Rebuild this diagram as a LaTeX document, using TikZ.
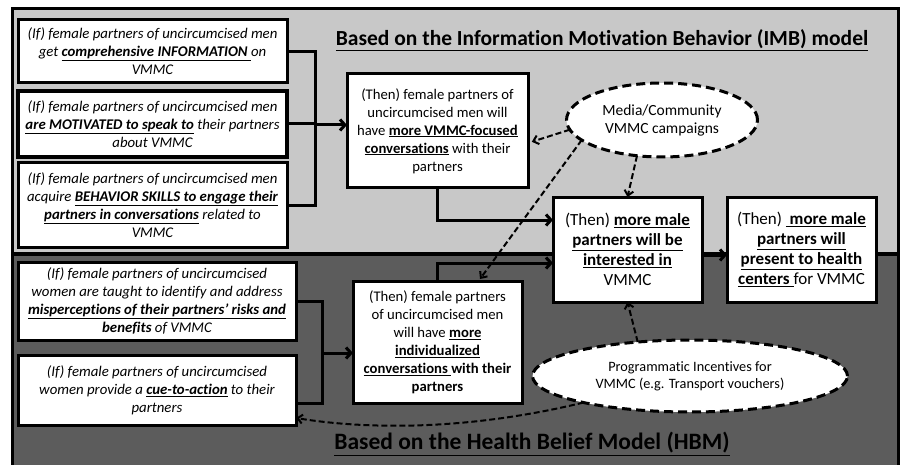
\documentclass[tikz,border=0pt]{standalone}
\usepackage{fontspec}
\setmainfont{Carlito}[Ligatures={NoCommon}]
\usetikzlibrary{arrows.meta,shapes.geometric}
\definecolor{lightg}{RGB}{200,200,200}
\definecolor{darkg}{RGB}{92,92,92}
\begin{document}
\begin{tikzpicture}[x=1pt,y=-1pt,
  boxbase/.style={draw, line width=3pt, fill=white, align=center, inner sep=0pt, outer sep=0pt},
  ifbox/.style={boxbase, font=\itshape\fontsize{14.8}{18}\selectfont},
  thenbox/.style={boxbase, font=\fontsize{14.7}{18}\selectfont},
  bigbox/.style={boxbase, font=\fontsize{17}{20}\selectfont},
  oval/.style={ellipse, draw, line width=3pt, fill=white, dash pattern=on 9pt off 5pt, inner sep=0pt, outer sep=0pt, align=center},
  conn/.style={line width=3pt},
  arr/.style={conn, -{Straight Barb[length=5pt,width=11pt]}},
  darr/.style={line width=2pt, dash pattern=on 6pt off 3pt, -{Straight Barb[length=5pt,width=9pt]}},
  ttl/.style={font=\bfseries\fontsize{21.5}{25}\selectfont, inner sep=0pt},
  ttlb/.style={font=\bfseries\fontsize{23.5}{27}\selectfont, inner sep=0pt}
]
\useasboundingbox (0,0) rectangle (904,465);
% background panels
\fill[lightg] (12,9) rectangle (898,254);
\fill[darkg] (12,254) rectangle (898,468);
\draw[line width=3pt] (12,468) -- (12,9) -- (898,9) -- (898,468);
\draw[line width=4pt] (12,254) -- (898,254);

% titles
\node[ttl] (imb) at (602,40) {\underline{Based on the Information Motivation Behavior (IMB) model}};
\node[ttlb] (hbm) at (532,444) {\underline{Based on the Health Belief Model (HBM)}};

% IMB boxes
\node[ifbox, minimum width=269pt, minimum height=63pt] (A1) at (152.5,51.5)
 {(If) female partners of uncircumcised men\\get \underline{\textbf{comprehensive INFORMATION }}on\\VMMC};
\node[ifbox, line width=4pt, minimum width=269pt, minimum height=66pt] (A2) at (152.5,124)
 {(If) female partners of uncircumcised men\\\underline{\textbf{are MOTIVATED to speak to}} their partners\\about VMMC};
\node[ifbox, minimum width=269pt, minimum height=84pt] (A3) at (152.5,205)
 {(If) female partners of uncircumcised men\\acquire \underline{\textbf{BEHAVIOR SKILLS to engage their}}\\\underline{\textbf{partners in conversations}} related to\\VMMC};
\node[thenbox, minimum width=181pt, minimum height=114pt] (B1) at (437.5,131)
 {(Then) female partners of\\uncircumcised men will\\have \underline{\textbf{more VMMC-focused}}\\\underline{\textbf{conversations}} with their\\partners};

% HBM boxes
\node[ifbox, minimum width=278pt, minimum height=78pt] (E1) at (157,301)
 {(If) female partners of uncircumcised\\women are taught to identify and address\\\underline{\textbf{misperceptions of their partners’ risks and}}\\\textbf{benefits} of VMMC};
\node[ifbox, minimum width=278pt, minimum height=70pt] (E2) at (157,390)
 {(If) female partners of uncircumcised\\women provide a \underline{\textbf{cue-to-action}} to their\\partners};
\node[thenbox, minimum width=169pt, minimum height=122pt] (B2) at (437.5,342)
 {(Then) female partners\\of uncircumcised men\\will have \underline{\textbf{more}}\\\underline{\textbf{individualized}}\\\textbf{\underline{conversations }with their}\\\textbf{partners}};

% outcome boxes
\node[bigbox, minimum width=149pt, minimum height=105pt] (C1) at (627.5,249.5)
 {(Then) \underline{\textbf{more male}}\\\underline{\textbf{partners will be}}\\\underline{\textbf{interested in}}\\VMMC};
\node[bigbox, minimum width=149pt, minimum height=105pt] (D) at (801.5,249.5)
 {(Then) \underline{\textbf{ more male}}\\\underline{\textbf{partners will}}\\\underline{\textbf{present to health}}\\\underline{\textbf{centers }}for VMMC};

% ellipses
\node[oval, font=\fontsize{15.5}{18}\selectfont, minimum width=191pt, minimum height=74pt] (M) at (662,120)
 {Media/Community\\VMMC campaigns};
\node[oval, font=\fontsize{14.3}{17}\selectfont, minimum width=315pt, minimum height=72pt] (P) at (690,376)
 {Programmatic Incentives for\\VMMC (e.g. Transport vouchers)};

% helper coordinates
\coordinate (J1) at (315,125);
\coordinate (J2) at (322,353);
\coordinate (y220) at (0,220);
\coordinate (y263) at (0,263);
\coordinate (y255) at (0,255);
\coordinate (y403) at (0,403);
\coordinate (y418) at (0,418);
\coordinate (y143) at (0,143);
\coordinate (B2in) at (480,279);

% IMB bracket
\draw[conn] (A1.east) -| (J1);
\draw[conn] (A3.east) -| (J1);
\draw[conn] (A2.east) -- (A2.east -| J1);
\draw[arr] (J1) -- (J1 -| B1.west);
\draw[arr] (B1.south) |- (C1.west |- y220);

% HBM bracket
\draw[conn] (E1.east) -| (J2);
\draw[conn] (E2.east |- y403) -| (J2);
\draw[arr] (J2) -- (J2 -| B2.west);
\draw[arr] (B2.north) |- (C1.west |- y263);

% outcome
\draw[arr] (C1.east |- y255) -- (D.west |- y255);

% dashed influences
\draw[darr, shorten >=4pt] (M.186) -- (B1.east |- y143);
\draw[darr] (M.194) -- (B2in);
\draw[darr] (M.235) -- (C1.north);
\draw[darr] (P.147) -- (C1.south);
\draw[darr] (P.194) .. controls (470,430) and (370,430) .. (E2.east |- y418);
\end{tikzpicture}
\end{document}
